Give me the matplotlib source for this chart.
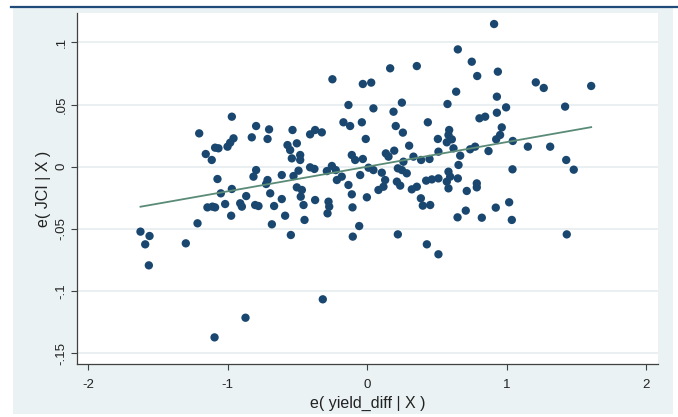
import numpy as np
import matplotlib.pyplot as plt
from matplotlib.patches import Rectangle
from matplotlib.lines import Line2D

plt.rcParams['font.family'] = ['Liberation Sans', 'DejaVu Sans']

# residuals
yield_resid = [
    -0.970, -1.204, -0.796, -0.827, -0.703, -0.714, -0.535, -0.409, -0.373, -0.325,
    -0.958, -0.982, -1.001, -1.090, -1.066, -1.157, -1.114, -0.571, -0.504, -0.552,
    -0.480, -0.540, -0.480, -0.134, 0.045, -0.170, -0.122, -0.038, -0.010, -0.110,
    -0.086, -0.031, -0.796, -0.815, -0.714, -0.724, -0.612, -0.528, -0.492, -0.409,
    -0.378, -0.289, -0.253, -0.225, -0.217, -0.182, -0.050, 0.010, 0.045, -1.073,
    -1.049, -0.970, -0.867, -1.145, -1.109, -1.090, -1.018, -0.910, -0.898, -0.803,
    -0.779, -0.695, -0.612, -0.667, -0.504, -0.468, -0.476, -0.456, -0.373, -0.277,
    -0.272, -0.284, -0.134, -0.110, -0.002, 0.081, -0.105, -0.975, -0.588, -0.449,
    -1.216, -0.683, -0.547, -0.057, -0.103, -1.300,
    0.638, 0.930, 0.249, 0.189, 0.576, 0.996, 0.930, 1.419, 0.805, 0.846,
    0.205, 0.256, 0.435, 0.588, 0.583, 0.507, 0.571, 0.607, 0.619, 0.965,
    0.953, 0.925, 1.044, 0.301, 0.194, 0.134, 0.153, 0.332, 0.387, 0.447,
    0.511, 0.667, 0.655, 0.738, 0.774, 0.870, 1.152, 1.312, 1.427, 0.105,
    0.220, 0.260, 0.249, 0.284, 0.129, 0.117, 0.213, 0.237, 0.320, 0.356,
    0.423, 0.464, 0.511, 0.583, 0.595, 0.571, 0.583, 0.650, 0.714, 0.786,
    0.786, 1.042, 0.385, 0.399, 0.452, 0.707, 0.648, 0.822, 0.922, 1.018,
    1.037, 0.220, 0.428, 0.511, 1.431,
    0.910, 0.650, 0.750, 0.789, 0.937, 0.165, 0.356, -0.031, 0.029, 1.209,
    1.266, 1.606, 1.481, -0.249,
    -1.625, -1.560, -1.591, -1.565, -0.318, -0.872, -1.094,
]
jci_resid = [
    0.0402, 0.0268, 0.0327, 0.0236, 0.0300, 0.0223, 0.0295, 0.0260, 0.0295, 0.0276,
    0.0228, 0.0193, 0.0161, 0.0153, 0.0148, 0.0102, 0.0054, 0.0174, 0.0188, 0.0134,
    0.0094, 0.0067, 0.0054, 0.0496, 0.0469, 0.0357, 0.0327, 0.0357, 0.0223, 0.0094,
    0.0054, 0.0062, -0.0027, -0.0080, -0.0107, -0.0139, -0.0067, -0.0075, -0.0032, -0.0005,
    -0.0018, -0.0035, 0.0006, -0.0027, -0.0107, -0.0080, -0.0067, -0.0008, -0.0027, -0.0099,
    -0.0214, -0.0179, -0.0236, -0.0327, -0.0321, -0.0327, -0.0300, -0.0294, -0.0321, -0.0308,
    -0.0316, -0.0214, -0.0260, -0.0316, -0.0166, -0.0187, -0.0241, -0.0308, -0.0268, -0.0281,
    -0.0321, -0.0375, -0.0147, -0.0222, -0.0246, -0.0187, -0.0327, -0.0394, -0.0394, -0.0428,
    -0.0455, -0.0463, -0.0549, -0.0477, -0.0562, -0.0616,
    0.0603, 0.0563, 0.0515, 0.0442, 0.0504, 0.0477, 0.0434, 0.0483, 0.0389, 0.0402,
    0.0327, 0.0274, 0.0357, 0.0295, 0.0255, 0.0223, 0.0196, 0.0220, 0.0148, 0.0316,
    0.0255, 0.0220, 0.0207, 0.0169, 0.0129, 0.0107, 0.0081, 0.0081, 0.0054, 0.0062,
    0.0121, 0.0089, 0.0014, 0.0140, 0.0161, 0.0126, 0.0161, 0.0161, 0.0054, -0.0048,
    -0.0013, 0.0040, -0.0027, -0.0053, -0.0107, -0.0161, -0.0120, -0.0152, -0.0182, -0.0161,
    -0.0112, -0.0102, -0.0094, -0.0040, -0.0080, -0.0120, -0.0174, -0.0094, -0.0195, -0.0134,
    -0.0166, -0.0021, -0.0254, -0.0313, -0.0308, -0.0353, -0.0407, -0.0410, -0.0329, -0.0286,
    -0.0428, -0.0544, -0.0624, -0.0704, -0.0544,
    0.1147, 0.0943, 0.0844, 0.0729, 0.0764, 0.0791, 0.0809, 0.0665, 0.0676, 0.0678,
    0.0633, 0.0649, -0.0024, 0.0703,
    -0.0522, -0.0557, -0.0624, -0.0793, -0.1066, -0.1214, -0.1372,
]

fit_slope = 0.0198
fit_const = 0.0

x_ticks = [-2, -1, 0, 1, 2]
x_ticklabels = ['-2', '-1', '0', '1', '2']
y_ticks = [-0.15, -0.1, -0.05, 0, 0.05, 0.1]
y_ticklabels = ['-.15', '-.1', '-.05', '0', '.05', '.1']

W, H = 678, 417
fig = plt.figure(figsize=(W / 100, H / 100), dpi=100)

# Stata-style graph region and the dark rule at the very top
fig.add_artist(Rectangle((13 / W, 1 - 414 / H), (673 - 13) / W, (414 - 8.3) / H,
                         transform=fig.transFigure, facecolor='#EAF2F3',
                         edgecolor='none', zorder=-5))
fig.add_artist(Line2D([11 / W, 1], [1 - 6.8 / H, 1 - 6.8 / H],
                      transform=fig.transFigure, color='#1F4A7A', lw=1.6))

ax = fig.add_axes([77 / W, 1 - 364 / H, (658 - 77) / W, (364 - 12.7) / H])
ax.set_facecolor('white')

x = np.array(yield_resid)
y = np.array(jci_resid)
ax.scatter(x, y, s=36, color='#1A476F', edgecolors='none', zorder=3)

x_fit = np.array([x.min(), x.max()])
ax.plot(x_fit, fit_const + fit_slope * x_fit, color='#5A8B77', lw=1.3, zorder=4)

ax.set_xlim(-2.08, 2.085)
ax.set_ylim(-0.1586, 0.1238)
ax.set_xticks(x_ticks, x_ticklabels)
ax.set_yticks(y_ticks, y_ticklabels)
plt.setp(ax.get_yticklabels(), rotation=90, va='center')

ax.yaxis.grid(True, color='#E6EEF0', lw=1.2)
ax.set_axisbelow(True)
for s in ['top', 'right']:
    ax.spines[s].set_visible(False)
for s in ['left', 'bottom']:
    ax.spines[s].set_color('#404040')
    ax.spines[s].set_linewidth(0.9)

ax.tick_params(axis='both', direction='out', length=4.3, width=0.8,
               color='#404040', labelsize=9.5, labelcolor='#222222')
ax.tick_params(axis='x', pad=6.8)
ax.tick_params(axis='y', pad=2.5)

fig.text(43 / W, 1 - 189 / H, 'e( JCI | X )', rotation=90, ha='center',
         va='center', fontsize=11.5, color='#222222')
fig.text(367.5 / W, 1 - 403 / H, 'e( yield_diff | X )', ha='center',
         va='center', fontsize=11.5, color='#222222')

fig.savefig('out.png', dpi=100)
